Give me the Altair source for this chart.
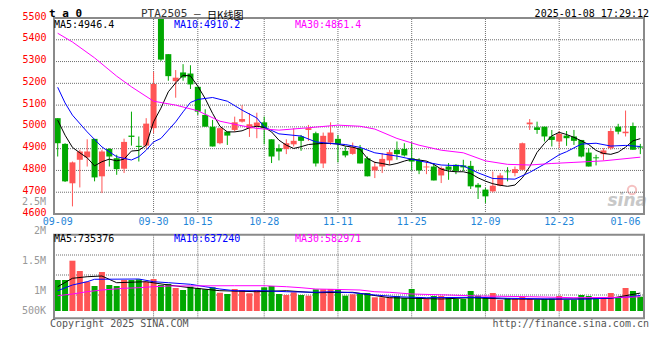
import altair as alt
import pandas as pd

MONO = "DejaVu Sans Mono"
CJK = "Noto Sans CJK SC"
RED = "#ff5555"
GREEN = "#00a800"
MA_COLORS = ["#000000", "#0000ff", "#ff00ff"]
GRID = "#6e6e6e"
BORDER = "#8a8a8a"

# ---------------- data ----------------
HOLIDAYS = ["2024-09-16", "2024-09-17", "2024-10-01", "2024-10-02", "2024-10-03",
            "2024-10-04", "2024-10-07", "2025-01-01"]
trade_days = [d for d in pd.bdate_range("2024-09-09", "2025-01-08")
              if d.strftime("%Y-%m-%d") not in HOLIDAYS]
dates = [d.strftime("%m-%d") for d in trade_days]

opens = [5040, 4922, 4741, 4849, 4860, 4945, 4773, 4899, 4856, 4808,
         4960, 4913, 4914, 4994, 5500, 5334, 5210, 5250, 5245, 5184,
         5055, 5001, 4925, 4978, 4986, 5024, 4993, 5004, 5021, 4943,
         4902, 4898, 4920, 4956, 4986, 4971, 4832, 4928, 4945, 4890,
         4876, 4902, 4856, 4800, 4818, 4846, 4895, 4899, 4856, 4846,
         4814, 4818, 4777, 4818, 4826, 4823, 4821, 4734, 4712, 4704,
         4730, 4795, 4788, 4803, 5012, 4998, 5001, 4956, 4933, 4960,
         4956, 4940, 4882, 4860, 4875, 4902, 5001, 4971, 5004, 4910]
highs = [5040, 4925, 4841, 4895, 4943, 4945, 4895, 4902, 4872, 4946,
         5070, 4956, 5040, 5253, 5500, 5334, 5261, 5288, 5283, 5184,
         5081, 5032, 4997, 4978, 5047, 5100, 5063, 5065, 5047, 4943,
         4920, 4943, 4994, 4963, 5009, 4978, 4974, 5021, 4963, 4910,
         4928, 4917, 4864, 4841, 4879, 4895, 4933, 4925, 4930, 4856,
         4841, 4834, 4818, 4834, 4829, 4849, 4844, 4742, 4719, 4795,
         4788, 4815, 4818, 4928, 5036, 5024, 5001, 4986, 4981, 4981,
         4986, 4940, 4902, 4872, 4902, 4994, 5014, 5075, 5020, 4922]
lows = [4864, 4747, 4635, 4722, 4818, 4750, 4696, 4818, 4780, 4788,
        4914, 4841, 4902, 4971, 5303, 5212, 5134, 5212, 5174, 5055,
        5001, 4910, 4920, 4917, 4978, 5020, 4954, 4948, 4920, 4834,
        4846, 4875, 4910, 4890, 4936, 4818, 4811, 4917, 4837, 4860,
        4872, 4832, 4773, 4765, 4788, 4826, 4849, 4864, 4800, 4783,
        4783, 4754, 4742, 4757, 4783, 4798, 4715, 4669, 4651, 4699,
        4727, 4750, 4773, 4800, 4986, 4968, 4933, 4910, 4902, 4913,
        4917, 4860, 4818, 4823, 4846, 4895, 4966, 4956, 4895, 4875]
closes = [4925, 4750, 4837, 4887, 4887, 4768, 4887, 4864, 4806, 4931,
          4954, 4908, 5015, 5197, 5309, 5233, 5226, 5227, 5195, 5070,
          5001, 4910, 4994, 4960, 5021, 5036, 5012, 5020, 4994, 4864,
          4887, 4925, 4936, 4936, 4994, 4832, 4959, 4974, 4922, 4869,
          4907, 4832, 4773, 4818, 4853, 4884, 4875, 4869, 4841, 4800,
          4818, 4754, 4811, 4803, 4798, 4814, 4727, 4722, 4681, 4730,
          4777, 4792, 4806, 4925, 5020, 4986, 4956, 4940, 4968, 4948,
          4936, 4864, 4818, 4856, 4892, 4981, 4978, 4978, 4895, 4905]
# volume, thousands of lots
volumes = [1271, 1271, 2062, 1640, 1201, 1025, 1599, 1066, 1025, 1271,
           1271, 1300, 1201, 1312, 1066, 1107, 943, 861, 996, 931,
           890, 972, 750, 697, 902, 861, 726, 861, 972, 1025,
           697, 656, 767, 656, 627, 890, 890, 902, 890, 627,
           685, 697, 738, 562, 562, 562, 615, 533, 902, 574,
           492, 615, 615, 562, 492, 492, 820, 627, 533, 738,
           451, 533, 504, 586, 492, 463, 492, 504, 615, 463,
           463, 656, 615, 492, 562, 738, 562, 943, 820, 586]

# price moving averages
ma5_idx = list(range(80))
ma5 = [5031, 4962, 4906, 4881, 4858, 4821, 4840, 4852, 4844, 4852,
       4889, 4892, 4916, 5023, 5086, 5161, 5202, 5237, 5234, 5187,
       5130, 5062, 5003, 4977, 4977, 4982, 4996, 5003, 4998, 4977,
       4939, 4916, 4901, 4909, 4919, 4922, 4924, 4924, 4921, 4912,
       4907, 4897, 4855, 4837, 4832, 4825, 4832, 4843, 4852, 4848,
       4843, 4828, 4806, 4797, 4794, 4794, 4786, 4766, 4751, 4739,
       4732, 4727, 4733, 4766, 4817, 4883, 4924, 4959, 4975, 4965,
       4952, 4936, 4919, 4892, 4878, 4874, 4884, 4907, 4936, 4946]
ma10_idx = [0, 1, 2, 4, 6, 8, 10, 11, 12, 13, 14, 15, 16, 17, 18, 19, 21, 23, 25, 27,
            28, 30, 33, 35, 37, 39, 41, 43, 46, 49, 52, 55, 57, 59, 62, 64, 66, 68, 69, 71,
            73, 75, 77, 79]
ma10 = [5182, 5110, 5054, 4977, 4908, 4863, 4848, 4863, 4893, 4931,
        4947, 4985, 5023, 5069, 5112, 5126, 5135, 5118, 5077, 5041,
        5000, 4968, 4958, 4931, 4924, 4919, 4906, 4881, 4866, 4844,
        4825, 4821, 4789, 4763, 4760, 4791, 4829, 4872, 4886, 4921,
        4925, 4912, 4915, 4910]
ma30_idx = [0, 2, 5, 8, 10, 13, 16, 19, 22, 25, 27, 30, 34, 38, 41, 43, 46, 49, 52, 55,
            58, 61, 64, 67, 70, 74, 79]
ma30 = [5430, 5390, 5317, 5233, 5184, 5118, 5100, 5074, 5026, 5005,
        4993, 4985, 4996, 5008, 5003, 4990, 4947, 4916, 4893, 4881,
        4844, 4828, 4825, 4832, 4837, 4844, 4861]

# volume moving averages (thousands)
vma5_idx = [0, 2, 4, 6, 8, 12, 15, 18, 22, 27, 31, 35, 40, 45, 52, 56, 61, 66, 70, 75, 79]
vma5 = [996, 1341, 1406, 1435, 1160, 1201, 1066, 955, 832, 791, 832, 750, 767, 545,
        492, 545, 492, 480, 492, 521, 735]
vma10_idx = [0, 2, 4, 5, 11, 13, 15, 18, 20, 22, 24, 28, 31, 35, 37, 40, 43, 46, 50, 57,
             61, 68, 72, 77, 79]
vma10 = [832, 1066, 1201, 1300, 1312, 1201, 1160, 1095, 996, 902, 832, 832, 791, 767,
         791, 750, 656, 586, 545, 562, 521, 492, 492, 562, 637]
vma30_idx = [0, 2, 4, 6, 9, 11, 13, 15, 24, 28, 31, 33, 35, 37, 41, 43, 45, 48, 53, 57,
             64, 70, 77, 79]
vma30 = [627, 697, 791, 861, 931, 955, 996, 1025, 1037, 1037, 996, 955, 902, 890, 861,
         791, 767, 697, 656, 615, 586, 545, 562, 583]

ma_names = ["MA5", "MA10", "MA30"]
price_legend = ["MA5:4946.4", "MA10:4910.2", "MA30:4861.4"]
vol_legend = ["MA5:735376", "MA10:637240", "MA30:582971"]
tick_idx = [0, 13, 19, 28, 38, 48, 58, 68, 77]
grid_idx = [13, 19, 28, 38, 48, 58, 68]
price_ticks = [4600, 4700, 4800, 4900, 5000, 5100, 5200, 5300, 5400, 5500]
vol_labels = ["2.5M", "2M", "1.5M", "1M", "500K"]
vol_grid = [2296, 1476, 656]          # volume-panel dotted lines (thousands)
vol_box = [-300, 3128]                # volume-panel frame (thousands)

n = len(closes)
df = pd.DataFrame({"idx": list(range(n)), "date": dates[:n], "open": opens, "high": highs,
                   "low": lows, "close": closes, "vol": volumes})


def ma_frame(pairs):
    frames = [pd.DataFrame({"idx": i, "v": v, "ma": name}) for name, i, v in pairs]
    return pd.concat(frames, ignore_index=True)


ma_price = ma_frame([("MA5", ma5_idx, ma5), ("MA10", ma10_idx, ma10), ("MA30", ma30_idx, ma30)])
ma_vol = ma_frame([("MA5", vma5_idx, vma5), ("MA10", vma10_idx, vma10), ("MA30", vma30_idx, vma30)])
ticks_df = pd.DataFrame({"idx": tick_idx, "label": [dates[i] for i in tick_idx]})
grid_df = pd.DataFrame({"idx": grid_idx})
pgrid_df = pd.DataFrame({"lvl": price_ticks[1:-1]})
vgrid_df = pd.DataFrame({"lvl": vol_grid})
ONE = pd.DataFrame({"k": [0]})

# ---------------- layout ----------------
W, H = 600, 301
P_TOP, P_BOT = 1, 197
V_BASE = 294

xs = alt.Scale(domain=[-0.5, 79.5], nice=False, zero=False)
X = alt.X("idx:Q", scale=xs, axis=None)
XL = alt.XDatum(-0.5, scale=xs, axis=None)
XR = alt.X2Datum(79.5)
ps = alt.Scale(domain=[4600, 5500], range=[P_BOT, P_TOP], nice=False, zero=False)
vs = alt.Scale(domain=[0, 3100], range=[V_BASE, V_BASE - 3100 / 41.0], nice=False, zero=False)
updown = alt.condition("datum.close >= datum.open", alt.value(RED), alt.value(GREEN))
ma_color = alt.Color("ma:N", scale=alt.Scale(domain=ma_names, range=MA_COLORS), legend=None)

price_axis = alt.Axis(values=price_ticks, orient="left", format="d", labelColor="#ff0000",
                      labelFont=MONO, labelFontSize=10, labelPadding=3, labelOffset=-2,
                      ticks=False, domain=False, grid=False, title=None)


def PY(field):
    return alt.Y(field, scale=ps, axis=price_axis, title=None)


def VY(field):
    return alt.Y(field, scale=vs, axis=None)


# price panel
p_hgrid = alt.Chart(pgrid_df).mark_rule(strokeDash=[1, 1], strokeWidth=1).encode(
    x=XL, x2=XR, y=PY("lvl:Q"), color=alt.value(GRID))
p_vgrid = alt.Chart(grid_df).mark_rule(strokeDash=[1, 1], strokeWidth=1).encode(
    x=X, y=alt.YDatum(4600, scale=ps, axis=price_axis), y2=alt.Y2Datum(5500),
    color=alt.value(GRID))
wick = alt.Chart(df).mark_rule(strokeWidth=1).encode(x=X, y=PY("low:Q"), y2="high:Q", color=updown)
body = alt.Chart(df).mark_bar(size=6).encode(x=X, y=PY("open:Q"), y2="close:Q", color=updown)
price_ma = alt.Chart(ma_price).mark_line(strokeWidth=1).encode(x=X, y=PY("v:Q"), color=ma_color)
p_box = alt.Chart(ONE).mark_rect(fillOpacity=0, strokeWidth=2).encode(
    x=XL, x2=XR, y=alt.YDatum(4600, scale=ps, axis=price_axis), y2=alt.Y2Datum(5500),
    stroke=alt.value(BORDER))
price_group = alt.layer(p_hgrid, p_vgrid, wick, body, price_ma, p_box)

# volume panel
v_hgrid = alt.Chart(vgrid_df).mark_rule(strokeDash=[1, 1], strokeWidth=1).encode(
    x=XL, x2=XR, y=VY("lvl:Q"), color=alt.value(GRID))
v_vgrid = alt.Chart(grid_df).mark_rule(strokeDash=[1, 1], strokeWidth=1).encode(
    x=X, y=alt.YDatum(vol_box[0], scale=vs, axis=None), y2=alt.Y2Datum(vol_box[1]),
    color=alt.value(GRID))
vbars = alt.Chart(df).mark_bar(size=6).encode(x=X, y=VY("vol:Q"), color=updown)
vol_ma = alt.Chart(ma_vol).mark_line(strokeWidth=1).encode(x=X, y=VY("v:Q"), color=ma_color)
v_box = alt.Chart(ONE).mark_rect(fillOpacity=0, strokeWidth=2).encode(
    x=XL, x2=XR, y=alt.YDatum(vol_box[0], scale=vs, axis=None), y2=alt.Y2Datum(vol_box[1]),
    stroke=alt.value(BORDER))
vol_group = alt.layer(v_hgrid, v_vgrid, vbars, vol_ma, v_box)


def label(text, x, y, color="#000000", size=10, align="left", baseline="middle",
          font=MONO, weight="normal", style="normal"):
    return alt.Chart(ONE).mark_text(text=text, align=align, baseline=baseline, font=font,
                                    fontSize=size, fontWeight=weight,
                                    fontStyle=style).encode(x=alt.value(x), y=alt.value(y),
                                                            color=alt.value(color))


date_labels = alt.Chart(ticks_df).mark_text(font=MONO, fontSize=10, align="center",
                                            baseline="middle").encode(
    x=X, y=alt.value(205), text="label:N", color=alt.value("#1f86d8"))

vol_label_y = [184.5, 214, 244, 274, 294]
vol_axis_labels = [label(t, -3, y, color="#999999", align="right")
                   for t, y in zip(vol_labels, vol_label_y)]

legend_x = [5, 125, 246]
legends = ([label(t, x, 7.5, color=c) for t, x, c in zip(price_legend, legend_x, MA_COLORS)] +
           [label(t, x, 221.5, color=c) for t, x, c in zip(vol_legend, legend_x, MA_COLORS)])

logo = [
    alt.Chart(ONE).mark_point(size=70, strokeWidth=2, filled=False).encode(
        x=alt.value(583), y=alt.value(173), color=alt.value("#f2a8a8")),
    label("sina", 598, 189, color="#c8c8c8", size=17, align="right", baseline="alphabetic",
          font="DejaVu Sans", weight="bold", style="italic"),
]

header = [
    label("t a 0", 0, -0.5, size=11, weight="bold", baseline="alphabetic"),
    label("PTA2505 –", 92, -0.5, color="#333333", size=11, baseline="alphabetic"),
    label("日K线图", 158, 1.5, size=10, baseline="alphabetic", font=CJK),
    label("2025-01-08 17:29:12", W, -0.5, size=10, align="right", baseline="alphabetic"),
]
footer = [
    label("Copyright 2025 SINA.COM", 1, 310, color="#555555", baseline="alphabetic"),
    label("http://finance.sina.com.cn", W, 310, color="#555555", align="right",
          baseline="alphabetic"),
]

chart = alt.layer(
    *logo,
    price_group,
    vol_group,
    date_labels, *vol_axis_labels, *legends, *header, *footer,
).resolve_scale(y="independent").properties(
    width=W, height=H,
    padding={"left": 41, "top": 9, "right": 3, "bottom": 14},
    autosize=alt.AutoSizeParams(type="none"),
    background="white",
).configure_view(stroke=None)

chart.save("out.html", embed_options={"renderer": "svg", "actions": False})
